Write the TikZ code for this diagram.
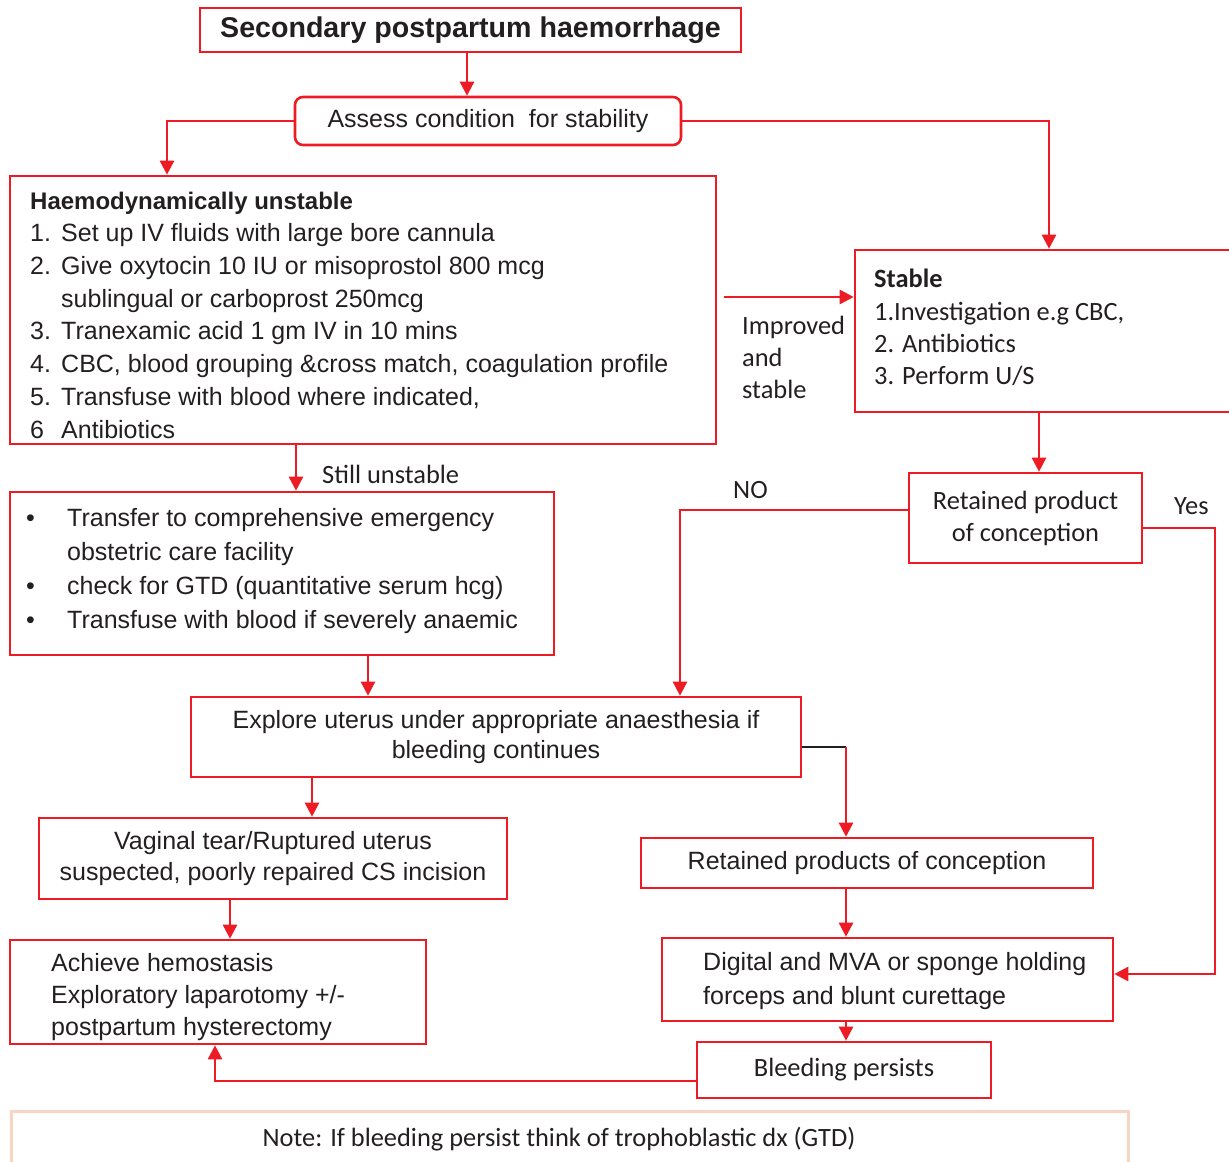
\documentclass[tikz,border=0pt]{standalone}
\usepackage{fontspec}
\setmainfont{Liberation Sans}
\newfontfamily\calibrifont{Carlito}
\usetikzlibrary{arrows.meta}
\definecolor{fred}{RGB}{237,28,36}
\definecolor{ink}{RGB}{35,31,32}
\definecolor{peach}{RGB}{248,213,194}
\newcommand\mainsize{\fontsize{25}{30}\selectfont}
\newcommand\calsize{\calibrifont\fontsize{26.4}{32}\selectfont}
\tikzset{
  box/.style={draw=fred, line width=2.6pt, rectangle, inner sep=0pt,
    text=ink, align=center, font=\mainsize},
  calbox/.style={box, font=\calsize},
  txt/.style={inner sep=0pt, text=ink, align=left, anchor=west},
  conn/.style={draw=fred, line width=2.6pt, -{Triangle[length=14pt,width=14pt]}},
  plain/.style={draw=fred, line width=2.6pt}
}
\begin{document}
\begin{tikzpicture}[x=1pt,y=-1pt]
\useasboundingbox (0,0) rectangle (1229,1162);
\clip (0,0) rectangle (1229,1162);

% boxes
\node[box, minimum width=541pt, minimum height=44pt, font=\fontsize{28.6}{30}\selectfont\bfseries]
  (title) at (470.5,30) {\raisebox{-1pt}{Secondary postpartum haemorrhage}};
\node[box, rounded corners=8pt, minimum width=386pt, minimum height=48pt]
  (assess) at (488,121) {\raisebox{-2pt}{Assess condition\ \ for stability}};
\node[box, minimum width=706pt, minimum height=268pt] (haemo) at (363,310) {};
\node[box, minimum width=544pt, minimum height=163pt] (bullets) at (282,573.5) {};
\node[box, minimum width=395pt, minimum height=162pt] (stable) at (1052.5,331) {};
\node[calbox, minimum width=233pt, minimum height=90pt]
  (ret1) at (1025.5,518) {Retained product\\of conception};
\node[box, minimum width=610pt, minimum height=80pt]
  (explore) at (496,737) {Explore uterus under appropriate anaesthesia if\\bleeding continues};
\node[box, minimum width=468pt, minimum height=81pt, font=\fontsize{25}{31}\selectfont]
  (vaginal) at (273,858.5) {Vaginal tear/Ruptured uterus\\suspected, poorly repaired CS incision};
\node[box, minimum width=416pt, minimum height=104pt] (achieve) at (218,992) {};
\node[box, minimum width=452pt, minimum height=50pt]
  (rpc) at (867,863) {Retained products of conception};
\node[box, minimum width=451pt, minimum height=83pt] (digital) at (887.5,979.5) {};
\node[calbox, minimum width=294pt, minimum height=56pt]
  (bleed) at (844,1070) {\raisebox{-1pt}{Bleeding persists}};

% left-aligned box contents
\node[txt, font=\fontsize{25}{32.7}\selectfont] (haemo-t) at (30,315)
  {{\fontsize{24}{32.7}\selectfont\bfseries Haemodynamically unstable}\\
   \makebox[31pt][l]{1.}Set up IV fluids with large bore cannula\\
   \makebox[31pt][l]{2.}Give oxytocin 10 IU or misoprostol 800 mcg\\
   \hspace*{31pt}sublingual or carboprost 250mcg\\
   \makebox[31pt][l]{3.}Tranexamic acid 1 gm IV in 10 mins\\
   \makebox[31pt][l]{4.}CBC, blood grouping \&cross match, coagulation profile\\
   \makebox[31pt][l]{5.}Transfuse with blood where indicated,\\
   \makebox[31pt][l]{6}Antibiotics};
\node[txt, font=\fontsize{25}{34.3}\selectfont] (bullets-t) at (24,571)
  {\makebox[43pt][l]{\hspace{2pt}\textbullet}Transfer to comprehensive emergency\\
   \hspace*{43pt}obstetric care facility\\
   \makebox[43pt][l]{\hspace{2pt}\textbullet}check for GTD (quantitative serum hcg)\\
   \makebox[43pt][l]{\hspace{2pt}\textbullet}Transfuse with blood if severely anaemic};
\node[txt, font=\calibrifont\fontsize{26.4}{32.3}\selectfont] (stable-t) at (874,327.5)
  {\textbf{Stable}\\1.Investigation e.g CBC,\\2. Antibiotics\\3. Perform U/S};
\node[txt, font=\fontsize{25}{32}\selectfont] (achieve-t) at (51,997)
  {Achieve hemostasis\\Exploratory laparotomy +/-\\postpartum hysterectomy};
\node[txt, font=\fontsize{25}{34}\selectfont] (digital-t) at (703,981)
  {Digital and MVA or sponge holding\\forceps and blunt curettage};

% connector labels
\node[txt, font=\calsize] (lbl-still) at (322,474) {Still unstable};
\node[txt, font=\calsize] (lbl-improved) at (742,357) {Improved\\and\\stable};
\node[txt, font=\calsize] (lbl-no) at (733,490) {NO};
\node[txt, font=\calsize] (lbl-yes) at (1174,506) {Yes};

% helper coordinates for connector routing
\coordinate (xa) at (467,0);
\coordinate (xb) at (167,0);
\coordinate (xc) at (1049,0);
\coordinate (xd) at (296,0);
\coordinate (imp) at (724,297);
\coordinate (xf) at (1039,0);
\coordinate (yno) at (0,510);
\coordinate (xg) at (680,0);
\coordinate (yyes) at (0,528);
\coordinate (xh) at (1215,0);
\coordinate (ydig) at (0,974);
\coordinate (xi) at (368,0);
\coordinate (yk) at (0,747);
\coordinate (xj) at (846,0);
\coordinate (xl) at (312,0);
\coordinate (xm) at (230,0);
\coordinate (yn) at (0,1081);
\coordinate (xo) at (215,0);

% connectors
\draw[conn] (title.south -| xa) -- (assess.north -| xa);
\draw[conn] (assess.west) -| (xb |- haemo.north);
\draw[conn] (assess.east) -| (xc |- stable.north);
\draw[conn] (haemo.south -| xd) -- (bullets.north -| xd);
\draw[conn] (imp) -- (imp -| stable.west);
\draw[conn] (stable.south -| xf) -- (ret1.north -| xf);
\draw[conn] (ret1.west |- yno) -| (xg |- explore.north);
\draw[conn] (ret1.east |- yyes) -| (xh |- ydig) -- (digital.east |- ydig);
\draw[conn] (bullets.south -| xi) -- (explore.north -| xi);
\draw[draw=ink, line width=1.2pt] (explore.east |- yk) -- (xj |- yk);
\draw[conn] (xj |- yk) -- (rpc.north -| xj);
\draw[conn] (explore.south -| xl) -- (vaginal.north -| xl);
\draw[conn] (vaginal.south -| xm) -- (achieve.north -| xm);
\draw[conn] (rpc.south -| xj) -- (digital.north -| xj);
\draw[conn] (digital.south -| xj) -- (bleed.north -| xj);
\draw[conn] (bleed.west |- yn) -| (xo |- achieve.south);

% note panel
\node[draw=peach, line width=2.5pt, minimum width=1117pt, minimum height=70pt, inner sep=0pt,
  anchor=north west] (note) at (10,1110) {};
\node[inner sep=0pt, text=ink, font=\calsize] (note-t) at (559,1139)
  {Note: If bleeding persist think of trophoblastic dx (GTD)};
\end{tikzpicture}
\end{document}
